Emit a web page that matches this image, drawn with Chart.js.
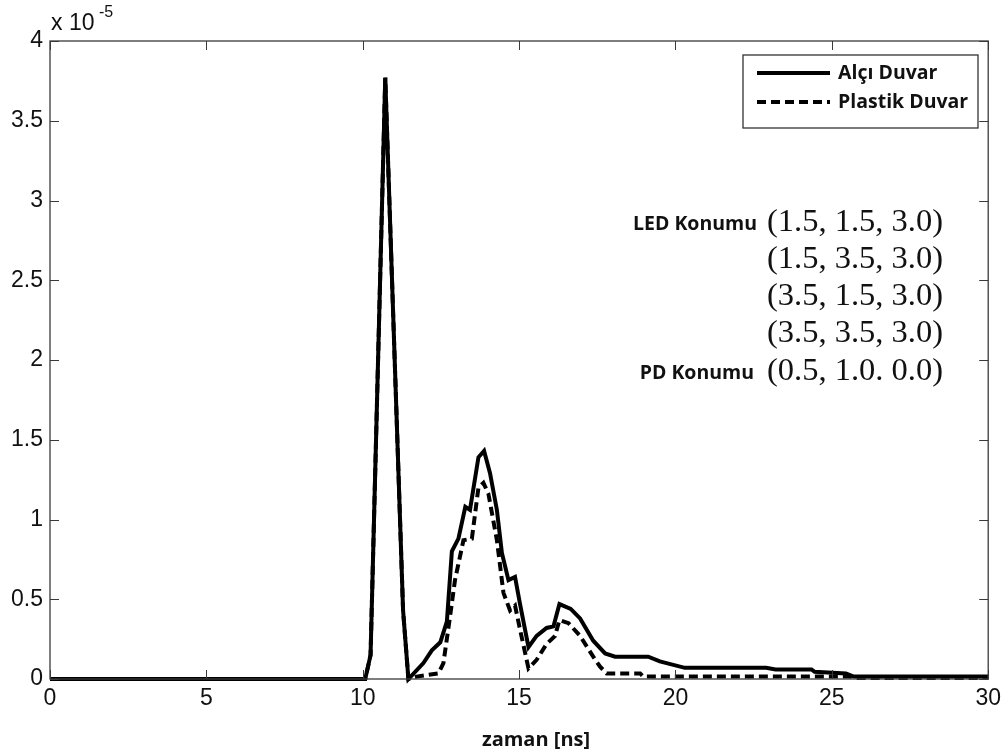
<!DOCTYPE html>
<html lang="tr">
<head>
  <meta charset="UTF-8" />
  <title>Alçı / Plastik Duvar</title>
  <script src="https://cdn.jsdelivr.net/npm/chart.js"></script>
  <style>
    body {
      margin: 0;
      background-color: #fff;
    }

    canvas {
      display: block;
    }
  </style>
</head>
<body>
  <canvas id="grafik" width="1007" height="755"></canvas>

  <script>
    // zaman [ns] ve değerler (x 10^-5)
    const alciX = [0, 10.08, 10.25, 10.72, 11.29, 11.46, 11.94, 12.21, 12.48, 12.69, 12.85, 13.06, 13.28, 13.43, 13.70, 13.88, 14.07, 14.29, 14.45, 14.66, 14.87, 15.03, 15.30, 15.56, 15.88, 16.10, 16.29, 16.65, 16.95, 17.37, 17.75, 18.07, 19.13, 19.50, 20.30, 22.90, 23.20, 24.35, 24.45, 25.45, 25.70, 30];
    const alciY = [0, 0, 0.15, 3.77, 0.43, 0, 0.10, 0.18, 0.23, 0.36, 0.80, 0.88, 1.08, 1.06, 1.39, 1.43, 1.29, 1.06, 0.79, 0.62, 0.64, 0.47, 0.20, 0.27, 0.32, 0.33, 0.47, 0.44, 0.38, 0.24, 0.16, 0.14, 0.14, 0.11, 0.07, 0.07, 0.06, 0.06, 0.045, 0.035, 0.015, 0.015];

    const plastikX = [0, 10.08, 10.25, 10.72, 11.29, 11.46, 11.72, 12.05, 12.42, 12.58, 12.79, 12.95, 13.22, 13.49, 13.70, 13.86, 14.02, 14.29, 14.50, 14.71, 14.87, 15.03, 15.30, 15.56, 15.88, 16.15, 16.29, 16.58, 16.95, 17.37, 17.59, 17.80, 18.87, 18.97, 25.60, 25.75, 30];
    const plastikY = [0, 0, 0.15, 3.77, 0.43, 0, 0.015, 0.025, 0.035, 0.10, 0.39, 0.62, 0.87, 0.88, 1.20, 1.23, 1.16, 0.87, 0.54, 0.43, 0.46, 0.31, 0.067, 0.12, 0.22, 0.27, 0.37, 0.35, 0.27, 0.14, 0.077, 0.035, 0.035, 0.015, 0.015, 0.006, 0.006];

    const seriAdlari = ["Alçı Duvar", "Plastik Duvar"];
    const xTicks = [0, 5, 10, 15, 20, 25, 30];
    const yTicks = [0, 0.5, 1, 1.5, 2, 2.5, 3, 3.5, 4];

    const konumEtiketleri = ["LED Konumu", "", "", "", "PD Konumu"];
    const konumlar = ["(1.5, 1.5, 3.0)", "(1.5, 3.5, 3.0)", "(3.5, 1.5, 3.0)", "(3.5, 3.5, 3.0)", "(0.5, 1.0. 0.0)"];

    const noktalar = (xs, ys) => xs.map((x, i) => ({ x: x, y: ys[i] }));

    // çerçeve, içe dönük çentikler, lejant ve yazılar
    const cerceve = {
      id: "cerceve",
      afterDraw(chart) {
        const ctx = chart.ctx;
        const a = chart.chartArea;
        const xs = chart.scales.x;
        const ys = chart.scales.y;
        ctx.save();

        ctx.strokeStyle = "#3a3a3a";
        ctx.lineWidth = 1.3;
        ctx.strokeRect(a.left, a.top, a.right - a.left, a.bottom - a.top);

        ctx.beginPath();
        xTicks.forEach(v => {
          const px = Math.round(xs.getPixelForValue(v)) + 0.5;
          ctx.moveTo(px, a.bottom); ctx.lineTo(px, a.bottom - 9);
          ctx.moveTo(px, a.top); ctx.lineTo(px, a.top + 9);
        });
        yTicks.forEach(v => {
          const py = Math.round(ys.getPixelForValue(v)) + 0.5;
          ctx.moveTo(a.left, py); ctx.lineTo(a.left + 9, py);
          ctx.moveTo(a.right, py); ctx.lineTo(a.right - 9, py);
        });
        ctx.lineWidth = 1;
        ctx.stroke();

        // x 10^-5
        ctx.fillStyle = "#111";
        ctx.textBaseline = "alphabetic";
        ctx.textAlign = "left";
        ctx.font = "23px 'Liberation Sans', Arial, sans-serif";
        ctx.fillText("x 10", 51, 30);
        ctx.font = "16px 'Liberation Sans', Arial, sans-serif";
        ctx.fillText("-5", 99, 17);

        // eksen başlığı
        ctx.font = "bold 20px 'Open Sans', sans-serif";
        ctx.textAlign = "center";
        ctx.textBaseline = "middle";
        ctx.fillText("zaman [ns]", 536, 740);

        // lejant
        ctx.fillStyle = "#fff";
        ctx.fillRect(743, 55, 235, 73);
        ctx.strokeStyle = "#333";
        ctx.lineWidth = 1.3;
        ctx.strokeRect(743, 55, 235, 73);
        const satirlar = [73, 102];
        chart.data.datasets.forEach((ds, i) => {
          ctx.beginPath();
          ctx.strokeStyle = "#000";
          ctx.lineWidth = 4;
          ctx.setLineDash(ds.borderDash || []);
          ctx.moveTo(757, satirlar[i]);
          ctx.lineTo(830, satirlar[i]);
          ctx.stroke();
          ctx.setLineDash([]);
          ctx.fillStyle = "#111";
          ctx.textAlign = "left";
          ctx.font = "bold 19.5px 'Open Sans', sans-serif";
          ctx.fillText(ds.label, 838, satirlar[i]);
        });

        // LED / PD konumları
        const konumY = [222, 259, 296, 333, 371];
        konumlar.forEach((k, i) => {
          ctx.textAlign = "right";
          ctx.font = "bold 19.5px 'Open Sans', sans-serif";
          if (konumEtiketleri[i]) ctx.fillText(konumEtiketleri[i], i === 4 ? 754 : 757, konumY[i] + 2);
          ctx.textAlign = "left";
          ctx.font = "32.5px 'Liberation Serif', 'Times New Roman', serif";
          ctx.fillText(k, 767, konumY[i]);
        });

        ctx.restore();
      }
    };

    new Chart(document.getElementById("grafik"), {
      type: "scatter",
      data: {
        datasets: [
          {
            label: seriAdlari[0],
            data: noktalar(alciX, alciY),
            showLine: true,
            borderColor: "#000",
            borderWidth: 4,
            pointRadius: 0,
            tension: 0,
            clip: false
          },
          {
            label: seriAdlari[1],
            data: noktalar(plastikX, plastikY),
            showLine: true,
            borderColor: "#000",
            borderWidth: 4,
            borderDash: [9, 5],
            pointRadius: 0,
            tension: 0,
            clip: false
          }
        ]
      },
      options: {
        responsive: false,
        animation: false,
        layout: {
          padding: { top: 41, right: 17, left: 0, bottom: 0 }
        },
        plugins: {
          legend: { display: false },
          tooltip: { enabled: false }
        },
        scales: {
          x: {
            type: "linear",
            min: 0,
            max: 30,
            afterBuildTicks: s => { s.ticks = xTicks.map(v => ({ value: v })); },
            afterFit: s => { s.height = 76; },
            grid: { display: false, drawTicks: false },
            border: { display: false },
            ticks: {
              padding: 6,
              color: "#111",
              font: { family: "'Liberation Sans', Arial, sans-serif", size: 23 },
              callback: v => String(v)
            }
          },
          y: {
            min: 0,
            max: 4,
            afterBuildTicks: s => { s.ticks = yTicks.map(v => ({ value: v })); },
            afterFit: s => { s.width = 50; },
            grid: { display: false, drawTicks: false },
            border: { display: false },
            ticks: {
              padding: 7,
              color: "#111",
              font: { family: "'Liberation Sans', Arial, sans-serif", size: 23 },
              callback: v => String(v)
            }
          }
        }
      },
      plugins: [cerceve]
    });
  </script>
</body>
</html>
